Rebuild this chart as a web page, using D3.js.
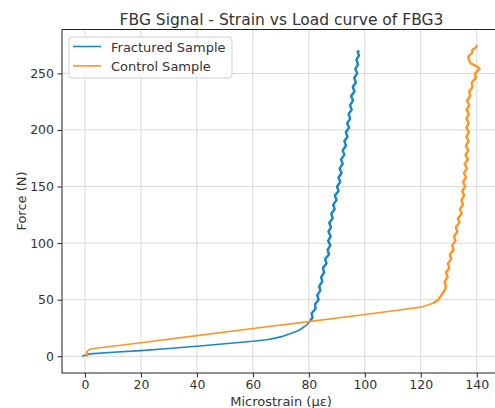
<!DOCTYPE html>
<html>
<head>
<meta charset="utf-8">
<script src="https://cdn.jsdelivr.net/npm/d3@7"></script>
<style>
  body { margin: 0; background: #fff; }
  svg { display: block; font-family: "DejaVu Sans", sans-serif; }
</style>
</head>
<body>
<svg id="chart" width="495" height="408"></svg>
<script>
// ---- Data ----
const seriesNames = ["Fractured Sample", "Control Sample"];
const seriesColors = ["#1b87c6", "#ff9526"];

// Fractured sample: [microstrain, force]
const fractured = [
  [-1.0, 0.0], [-0.3, 0.6], [0.8, 1.4], [1.8, 2.1], [10, 3.5], [20, 5.0], [30, 6.9],
  [40, 8.8], [50, 11.0], [60, 13.2], [65, 14.6], [68, 16.0], [71, 17.8], [74, 20.5],
  [76.5, 23.0], [78.5, 26.3], [79.8, 29.0], [80.5, 31.5],
  [81.3, 34], [81.0, 38], [82.4, 42], [82.2, 46], [83.5, 50], [83.0, 54], [84.1, 58],
  [83.7, 62], [84.8, 66], [84.4, 70], [85.5, 74], [85.0, 78], [86.3, 82], [85.8, 86],
  [87.2, 90], [86.7, 94], [87.7, 98], [86.9, 102], [87.8, 106], [87.0, 110], [87.9, 114],
  [87.3, 118], [88.5, 122], [88.0, 126], [89.2, 130], [88.7, 134], [89.9, 138], [89.3, 142],
  [90.6, 146], [90.1, 150], [91.2, 154], [90.6, 158], [91.7, 162], [91.0, 166], [92.1, 170],
  [91.5, 174], [92.7, 178], [92.1, 182], [93.3, 186], [92.7, 190], [93.8, 194], [93.2, 198],
  [94.4, 202], [93.7, 206], [94.8, 210], [94.2, 214], [95.3, 218], [94.7, 222], [95.8, 226],
  [95.1, 230], [96.3, 234], [95.7, 238], [96.8, 242], [96.2, 246], [97.3, 250], [96.6, 254],
  [97.6, 258], [97.0, 262], [97.9, 266], [97.4, 269], [98.0, 270]
];

// Control sample: [microstrain, force]
const control = [
  [0.2, 0.0], [0.9, 0.5], [0.4, 1.5], [1.1, 2.5], [0.6, 3.5], [1.0, 4.8], [1.5, 5.8],
  [2.5, 6.6], [20, 12.0], [40, 18.2], [60, 24.5], [80, 30.6], [100, 36.9], [112.5, 40.9],
  [120, 43.4], [124.4, 46.8], [126.2, 49.8], [127.4, 54.2], [128.6, 58.5],
  [129.0, 62], [128.5, 66], [129.6, 70], [129.0, 74], [130.2, 78], [129.7, 82], [130.9, 86],
  [130.4, 90], [131.7, 94], [131.2, 98], [132.4, 102], [131.9, 106], [133.1, 110], [132.5, 114],
  [133.8, 118], [133.3, 122], [134.6, 126], [134.0, 130], [135.1, 134], [134.5, 138], [135.5, 142],
  [134.8, 146], [135.9, 150], [135.1, 154], [136.2, 158], [135.4, 162], [136.5, 166], [135.7, 170],
  [136.8, 174], [136.0, 178], [137.0, 182], [136.1, 186], [137.1, 190], [136.3, 194], [137.2, 198],
  [136.3, 202], [137.1, 206], [136.3, 210], [137.2, 214], [136.4, 218], [137.3, 222], [136.5, 226],
  [137.7, 230], [137.3, 234], [138.5, 238], [138.2, 242], [139.6, 246], [139.4, 250], [141.0, 254],
  [140.2, 256], [137.8, 259], [137.2, 262], [137.0, 265], [138.3, 268], [138.5, 271], [139.7, 273],
  [140.1, 275]
];

const xTicks = [0, 20, 40, 60, 80, 100, 120, 140];
const yTicks = [0, 50, 100, 150, 200, 250];
const titleText = "FBG Signal - Strain vs Load curve of FBG3";
const xLabel = "Microstrain (\u03bc\u03b5)";
const yLabel = "Force (N)";

// ---- Layout ----
const svg = d3.select("#chart");
const plot = { left: 62, top: 29.5, right: 500, bottom: 373 };
const x = d3.scaleLinear().domain([-8.2, 148.3]).range([plot.left, plot.right]);
const y = d3.scaleLinear().domain([-14.8, 288.8]).range([plot.bottom, plot.top]);

const textColor = "#333";
const gridColor = "#dadada";

// grid
const grid = svg.append("g");
grid.selectAll("line.vx").data(xTicks).join("line")
  .attr("x1", d => x(d)).attr("x2", d => x(d))
  .attr("y1", plot.top).attr("y2", plot.bottom)
  .attr("stroke", gridColor).attr("stroke-width", 1);
grid.selectAll("line.hy").data(yTicks).join("line")
  .attr("y1", d => y(d)).attr("y2", d => y(d))
  .attr("x1", plot.left).attr("x2", plot.right)
  .attr("stroke", gridColor).attr("stroke-width", 1);

// lines
const line = d3.line().x(d => x(d[0])).y(d => y(d[1]));
svg.append("clipPath").attr("id", "clip").append("rect")
  .attr("x", plot.left).attr("y", plot.top)
  .attr("width", plot.right - plot.left).attr("height", plot.bottom - plot.top);
const dataG = svg.append("g").attr("clip-path", "url(#clip)");
const bandFrom = [31, 46]; // force where the noisy, steep branch of each series begins
[fractured, control].forEach((s, i) => {
  dataG.append("path").datum(s)
    .attr("d", line)
    .attr("fill", "none")
    .attr("stroke", seriesColors[i])
    .attr("stroke-width", 1.6)
    .attr("stroke-linejoin", "round");
  dataG.append("path").datum(s.filter(d => d[1] >= bandFrom[i]))
    .attr("d", line)
    .attr("fill", "none")
    .attr("stroke", seriesColors[i])
    .attr("stroke-width", 2.4)
    .attr("stroke-linejoin", "round");
});

// frame
svg.append("rect")
  .attr("x", plot.left).attr("y", plot.top)
  .attr("width", plot.right - plot.left).attr("height", plot.bottom - plot.top)
  .attr("fill", "none").attr("stroke", "#222").attr("stroke-width", 1);

// axes
const xAxis = svg.append("g").attr("transform", `translate(0,${plot.bottom})`)
  .call(d3.axisBottom(x).tickValues(xTicks).tickSize(4.5).tickPadding(3).tickSizeOuter(0));
const yAxis = svg.append("g").attr("transform", `translate(${plot.left},0)`)
  .call(d3.axisLeft(y).tickValues(yTicks).tickSize(4.5).tickPadding(3.5).tickSizeOuter(0));
[xAxis, yAxis].forEach(a => {
  a.select(".domain").remove();
  a.selectAll(".tick line").attr("stroke", "#222");
  a.selectAll(".tick text").attr("fill", textColor)
    .style("font-family", "DejaVu Sans, sans-serif").style("font-size", "12.5px");
});

// labels
svg.append("text").attr("x", 281).attr("y", 406).attr("text-anchor", "middle")
  .attr("fill", textColor).style("font-size", "13px").text(xLabel);
svg.append("text").attr("transform", "translate(26,201) rotate(-90)")
  .attr("text-anchor", "middle").attr("fill", textColor)
  .style("font-size", "13px").text(yLabel);
svg.append("text").attr("x", 281.5).attr("y", 25).attr("text-anchor", "middle")
  .attr("fill", textColor).style("font-size", "15.5px").text(titleText);

// legend
const lg = svg.append("g");
lg.append("rect").attr("x", 69).attr("y", 37).attr("width", 163).attr("height", 41)
  .attr("rx", 3).attr("fill", "#fff").attr("fill-opacity", 0.85)
  .attr("stroke", "#cfcfcf").attr("stroke-width", 1);
seriesNames.forEach((name, i) => {
  const yy = 46.5 + i * 19.4;
  lg.append("line").attr("x1", 73).attr("x2", 101).attr("y1", yy).attr("y2", yy)
    .attr("stroke", seriesColors[i]).attr("stroke-width", 1.6);
  lg.append("text").attr("x", 111).attr("y", yy + 5.2)
    .attr("fill", textColor).style("font-size", "13px").text(name);
});
</script>
</body>
</html>
